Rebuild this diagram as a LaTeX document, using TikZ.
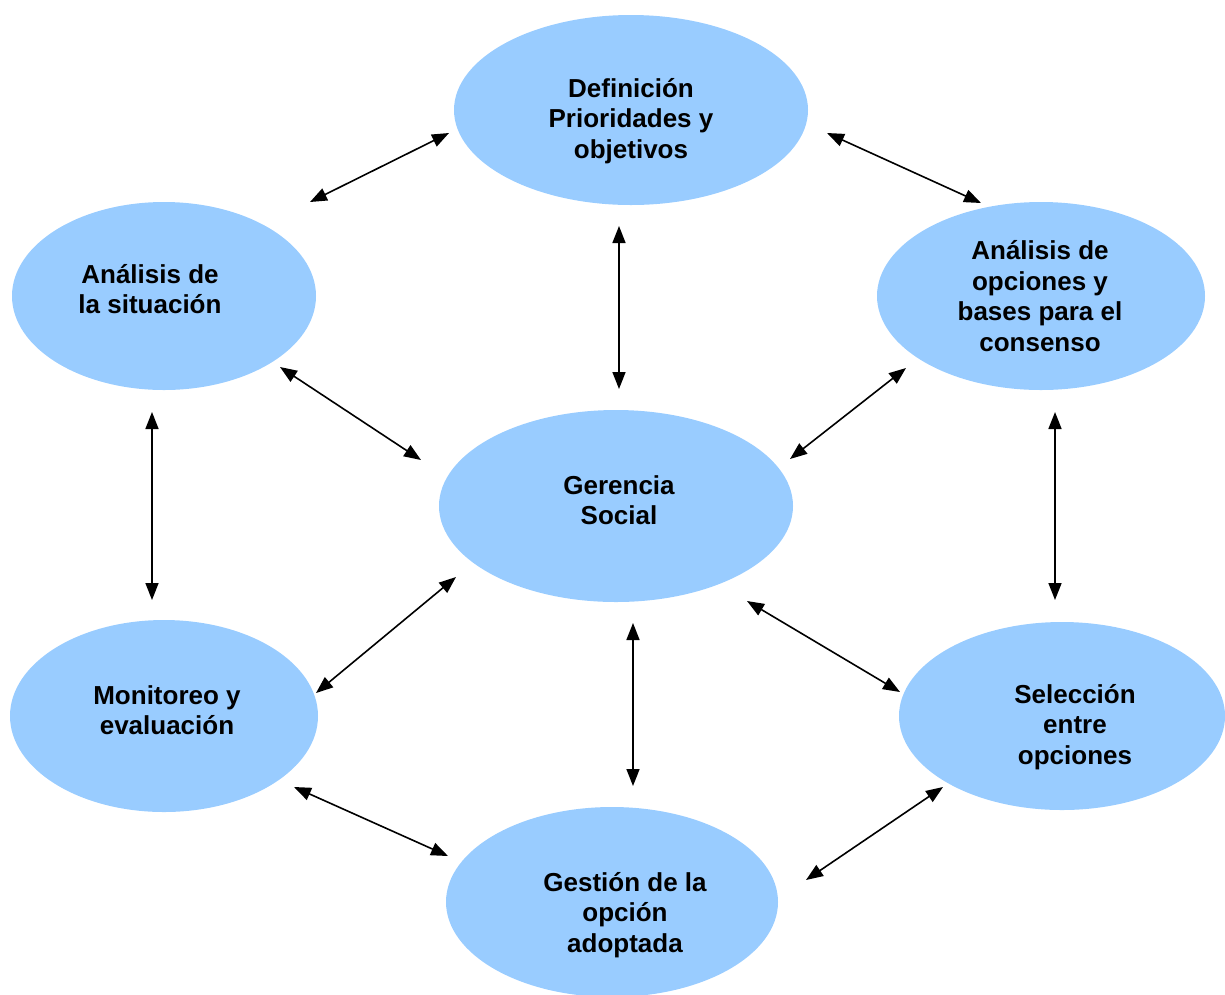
\documentclass[tikz,border=0pt]{standalone}
\usepackage{fontspec}
\setmainfont{Liberation Sans}
\usetikzlibrary{shapes.geometric,arrows.meta}

\definecolor{r153g204b255}{rgb}{0.600000,0.800000,1.000000}%

\tikzset{
  bubble/.style={ellipse, fill=r153g204b255, draw=none, inner sep=0pt},
  label/.style={align=center, font=\fontsize{26pt}{30.5pt}\selectfont\bfseries, inner sep=0pt},
  link/.style={line width=1.6pt, {Triangle[length=17pt,width=13pt]}-{Triangle[length=17pt,width=13pt]}}
}

\begin{document}
\begin{tikzpicture}[x=1pt,y=-1pt]
  \clip (0,0) rectangle (1225,994);
  \useasboundingbox (0,0) rectangle (1225,994);

  % Drawing ellipses
  \node [bubble, minimum width=354pt, minimum height=190pt] (defin) at (631,110) {};%
  \node [bubble, minimum width=304pt, minimum height=188pt] (situa) at (164,296) {};%
  \node [bubble, minimum width=328pt, minimum height=188pt] (opcio) at (1041,296) {};%
  \node [bubble, minimum width=354pt, minimum height=192pt] (geren) at (616,506) {};%
  \node [bubble, minimum width=308pt, minimum height=192pt] (monit) at (164,716) {};%
  \node [bubble, minimum width=326pt, minimum height=188pt] (selec) at (1062,716) {};%
  \node [bubble, minimum width=332pt, minimum height=190pt] (gesti) at (612,902) {};%

  % Writing texts
  \node [label] (tdefin) at (631,121) {Definición\\Prioridades y\\objetivos};%
  \node [label] (tsitua) at (150,289) {Análisis de\\la situación};%
  \node [label] (topcio) at (1040,296) {Análisis de\\opciones y\\bases para el\\consenso};%
  \node [label] (tgeren) at (619,500) {Gerencia\\Social};%
  \node [label] (tmonit) at (167,710) {Monitoreo y\\evaluación};%
  \node [label] (tselec) at (1075,727) {Selección\\entre\\opciones};%
  \node [label] (tgesti) at (625,915) {Gestión de la\\opción\\adoptada};%

  % Marking arrow ends
  \coordinate (a1) at (310,202); \coordinate (b1) at (449,133);
  \coordinate (a2) at (827,133); \coordinate (b2) at (981,203);
  \coordinate (a3) at (619,226); \coordinate (b3) at (619,389);
  \coordinate (a4) at (280,367); \coordinate (b4) at (421,460);
  \coordinate (a5) at (906,368); \coordinate (b5) at (790,459);
  \coordinate (a6) at (152,412); \coordinate (b6) at (152,600);
  \coordinate (a7) at (1055,412); \coordinate (b7) at (1055,600);
  \coordinate (a8) at (456,577); \coordinate (b8) at (316,693);
  \coordinate (a9) at (747,601); \coordinate (b9) at (900,692);
  \coordinate (a10) at (633,623); \coordinate (b10) at (633,786);
  \coordinate (a11) at (294,787); \coordinate (b11) at (448,856);
  \coordinate (a12) at (943,787); \coordinate (b12) at (806,880);

  % Drawing double arrows
  \foreach \i in {1,...,12}
    \draw [link] (a\i) -- (b\i);%
\end{tikzpicture}
\end{document}
